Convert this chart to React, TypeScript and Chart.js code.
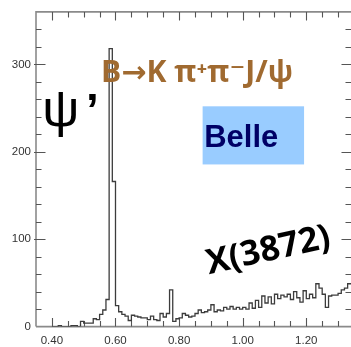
import React, { useEffect, useRef } from "react";
import { Chart, registerables } from "chart.js";
Chart.register(...registerables);

// Histogram: M(pi+pi-l+l-) - M(l+l-) in GeV, bins of 0.01 starting at 0.40
const BIN_START = 0.4;
const BIN_WIDTH = 0.01;
const counts = [
  0, 0, 1, 0, 0, 0, 1, 1, 0, 6, // 0.40 - 0.49
  4, 4, 4, 9, 8, 14, 19, 31, 318, 166, // 0.50 - 0.59
  24, 17, 14, 12, 7, 13, 12, 11, 10, 10, // 0.60 - 0.69
  8, 12, 8, 7, 15, 11, 15, 42, 6, 9, // 0.70 - 0.79
  10, 15, 13, 11, 12, 15, 19, 16, 17, 19, // 0.80 - 0.89
  25, 17, 19, 18, 22, 20, 23, 20, 22, 20, // 0.90 - 0.99
  22, 20, 27, 21, 30, 22, 35, 27, 34, 26, // 1.00 - 1.09
  37, 32, 36, 34, 37, 31, 40, 33, 28, 41, // 1.10 - 1.19
  32, 37, 33, 49, 44, 37, 22, 35, 36, 36, // 1.20 - 1.29
  38, 42, 44, 49, 49, // 1.30 - 1.34
];

const xTickValues = [0.4, 0.6, 0.8, 1.0, 1.2];
const yTickValues = [0, 100, 200, 300];
const X_MIN = 0.35;
const X_MAX = 1.3406;
const Y_MIN = 0;
const Y_MAX = 360;
const X_MINOR = 0.05;
const Y_MINOR = 20;

const textProcess = "B→K π⁺π⁻J/ψ";
const textPsi = "ψ";
const textPrime = "’";
const textBelle = "Belle";
const textX = "X(3872)";

function fitSize(ctx: CanvasRenderingContext2D, text: string, weight: string, family: string, width: number) {
  ctx.font = `${weight} 100px ${family}`;
  const w = ctx.measureText(text).width;
  return (100 * width) / w;
}

const framePlugin = {
  id: "frameTicks",
  beforeDatasetsDraw(chart: any) {
    const { ctx, chartArea: a, scales } = chart;
    const xs = scales.x;
    const ys = scales.y;
    ctx.save();
    ctx.strokeStyle = "#8a8a8a";
    ctx.lineWidth = 1.6;
    ctx.beginPath();
    ctx.moveTo(a.left, a.bottom);
    ctx.lineTo(a.left, a.top);
    ctx.lineTo(a.right + 4, a.top);
    ctx.moveTo(a.left, a.bottom);
    ctx.lineTo(a.right + 4, a.bottom);
    ctx.stroke();

    ctx.strokeStyle = "#555";
    ctx.lineWidth = 1.1;
    ctx.beginPath();
    for (let k = Math.ceil(X_MIN / X_MINOR); k * X_MINOR <= X_MAX + 1e-9; k++) {
      const v = k * X_MINOR;
      if (Math.abs(v - X_MIN) < 1e-6) continue;
      const major = Math.abs(v / 0.2 - Math.round(v / 0.2)) < 1e-6;
      const px = Math.round(xs.getPixelForValue(v)) + 0.5;
      const len = major ? 8.5 : 5.5;
      ctx.moveTo(px, a.top);
      ctx.lineTo(px, a.top + len);
      ctx.moveTo(px, a.bottom);
      ctx.lineTo(px, a.bottom - len);
    }
    for (let v = Y_MIN + Y_MINOR; v < Y_MAX; v += Y_MINOR) {
      const major = v % 100 === 0;
      const py = Math.round(ys.getPixelForValue(v)) + 0.5;
      const len = major ? 9.5 : 5.5;
      ctx.moveTo(a.left - (major ? 2 : 0), py);
      ctx.lineTo(a.left + len, py);
      ctx.moveTo(a.right, py);
      ctx.lineTo(a.right - len, py);
    }
    ctx.stroke();
    ctx.restore();
  },
  afterDatasetsDraw(chart: any) {
    const { ctx, scales } = chart;
    const xs = scales.x;
    const ys = scales.y;
    const X = (v: number) => xs.getPixelForValue(v);
    const Y = (v: number) => ys.getPixelForValue(v);
    ctx.save();
    ctx.textBaseline = "alphabetic";
    ctx.textAlign = "left";

    // psi' label
    ctx.fillStyle = "#000";
    ctx.font = "52px 'Liberation Sans'";
    ctx.fillText(textPsi, X(0.37), Y(229));
    ctx.font = "bold 46px 'Liberation Sans'";
    ctx.fillText(textPrime, X(0.507), Y(229));

    // process label
    const fam = "'Open Sans', 'DejaVu Sans'";
    const s1 = fitSize(ctx, textProcess, "bold", fam, 192);
    ctx.font = `bold ${s1}px ${fam}`;
    ctx.fillStyle = "#a06a30";
    ctx.fillText(textProcess, X(0.5544), Y(280));

    // Belle box
    ctx.fillStyle = "#99ccff";
    const bx0 = X(0.874), bx1 = X(1.193), by0 = Y(252), by1 = Y(185.5);
    ctx.fillRect(bx0, by0, bx1 - bx0, by1 - by0);
    ctx.fillStyle = "#000066";
    const s2 = fitSize(ctx, textBelle, "bold", "'Liberation Sans'", 74);
    ctx.font = `bold ${s2}px 'Liberation Sans'`;
    ctx.fillText(textBelle, X(0.879), Y(206));

    // X(3872) label, rotated
    const s3 = fitSize(ctx, textX, "bold", fam, 126);
    ctx.font = `bold ${s3}px ${fam}`;
    ctx.fillStyle = "#000";
    ctx.translate(X(0.894), Y(60));
    ctx.rotate((-12.5 * Math.PI) / 180);
    ctx.fillText(textX, 0, 0);
    ctx.restore();
  },
};

export default function App() {
  const ref = useRef<HTMLCanvasElement | null>(null);
  useEffect(() => {
    document.body.style.margin = "0";
    const canvas = ref.current;
    if (!canvas) return;
    const points = counts.map((c, i) => ({ x: BIN_START + i * BIN_WIDTH, y: c }));
    points.push({ x: BIN_START + counts.length * BIN_WIDTH, y: counts[counts.length - 1] });
    const chart = new Chart(canvas, {
      type: "line",
      data: {
        datasets: [
          {
            data: points,
            stepped: "before",
            borderColor: "#3c3c3c",
            borderWidth: 1.3,
            pointRadius: 0,
            fill: false,
          },
        ],
      },
      options: {
        responsive: false,
        animation: false,
        devicePixelRatio: 1,
        layout: { padding: { top: 8.5, left: 0, right: 0, bottom: 0 } },
        plugins: { legend: { display: false }, tooltip: { enabled: false } },
        scales: {
          x: {
            type: "linear",
            min: X_MIN,
            max: X_MAX,
            grid: { display: false, drawTicks: false },
            border: { display: false },
            ticks: {
              autoSkip: false,
              maxRotation: 0,
              padding: 7,
              color: "#333",
              font: { family: "'Liberation Sans', Arial", size: 11.5 },
              callback: (v: any) => Number(v).toFixed(2),
            },
            afterBuildTicks: (s: any) => {
              s.ticks = xTickValues.map((v) => ({ value: v }));
            },
            afterFit: (s: any) => {
              s.height = 20.4;
            },
          },
          y: {
            type: "linear",
            min: Y_MIN,
            max: Y_MAX,
            grid: { display: false, drawTicks: false },
            border: { display: false },
            ticks: {
              autoSkip: false,
              padding: 5,
              color: "#333",
              font: { family: "'Liberation Sans', Arial", size: 11.5 },
            },
            afterBuildTicks: (s: any) => {
              s.ticks = yTickValues.map((v) => ({ value: v }));
            },
            afterFit: (s: any) => {
              s.width = 36;
            },
          },
        },
      },
      plugins: [framePlugin],
    } as any);
    return () => chart.destroy();
  }, []);
  return (
    <div style={{ width: 351, height: 347, overflow: "hidden", background: "#fff" }}>
      <canvas ref={ref} width={351} height={347} style={{ display: "block" }} />
    </div>
  );
}
